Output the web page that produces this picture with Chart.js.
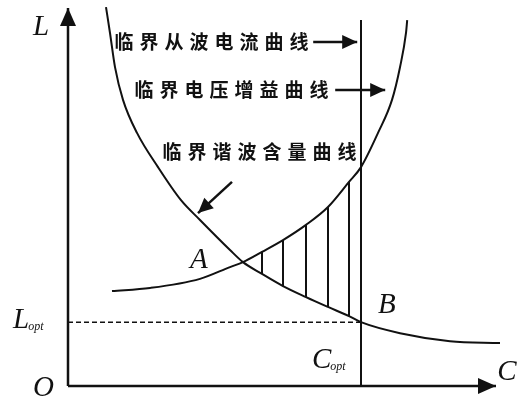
<!DOCTYPE html>
<html>
<head>
<meta charset="utf-8">
<script src="https://cdn.jsdelivr.net/npm/chart.js@4/dist/chart.umd.min.js"></script>
<style>
    html, body { margin: 0; padding: 0; background: #fff; }
    #wrap { width: 518px; height: 399px; position: relative; }
</style>
</head>
<body>
<div id="wrap"><canvas id="chart"></canvas></div>
<script>
// curve readings (C on x, L on y, arbitrary units, origin O at 0,0)
const harmonicC = [0.95, 1.05, 1.175, 1.375, 1.725, 2.25, 2.825, 3.30, 4.05, 4.375, 4.85, 5.375, 5.95, 6.50, 7.025, 7.325, 8.30, 9.55, 10.8];
const harmonicL = [9.97, 9.29, 8.39, 7.53, 6.66, 5.76, 4.89, 4.37, 3.58, 3.26, 2.95, 2.63, 2.34, 2.08, 1.84, 1.68, 1.39, 1.18, 1.13];

const gainC = [1.10, 2.05, 3.30, 4.05, 4.375, 4.85, 5.375, 5.95, 6.50, 7.025, 7.325, 7.75, 8.10, 8.30, 8.45, 8.48];
const gainL = [2.50, 2.58, 2.82, 3.13, 3.26, 3.53, 3.84, 4.24, 4.71, 5.37, 5.76, 6.66, 7.53, 8.39, 9.29, 9.63];

const Copt = 7.325;
const Lopt = 1.68;
const rippleTop = 9.63;

// hatch lines between the two curves
const hatchC = [4.85, 5.375, 5.95, 6.50, 7.025];
const hatchTop = [3.53, 3.84, 4.24, 4.71, 5.37];
const hatchBottom = [2.95, 2.63, 2.34, 2.08, 1.84];

const axisEndC = 10.7;
const axisEndL = 9.95;

const curveNames = ["临界从波电流曲线", "临界电压增益曲线", "临界谐波含量曲线"];

const toPoints = (xs, ys) => xs.map((x, i) => ({ x: x, y: ys[i] }));

const line = (data, extra) => Object.assign({
    data: data,
    showLine: true,
    borderColor: "#111",
    borderWidth: 2,
    pointRadius: 0,
    fill: false,
    clip: false
}, extra || {});

const datasets = [
    line([{ x: 0, y: 0 }, { x: 0, y: axisEndL }], { borderWidth: 2.5 }),
    line([{ x: 0, y: 0 }, { x: axisEndC, y: 0 }], { borderWidth: 2.5 }),
    line(toPoints(harmonicC, harmonicL), { cubicInterpolationMode: "monotone" }),
    line(toPoints(gainC, gainL), { cubicInterpolationMode: "monotone" }),
    line([{ x: Copt, y: 0 }, { x: Copt, y: rippleTop }]),
    line([{ x: 0, y: Lopt }, { x: Copt, y: Lopt }], { borderWidth: 1.5, borderDash: [5, 3] })
];
hatchC.forEach((c, i) => {
    datasets.push(line([{ x: c, y: hatchBottom[i] }, { x: c, y: hatchTop[i] }]));
});

function arrowHead(ctx, x1, y1, x2, y2, len, half) {
    const a = Math.atan2(y2 - y1, x2 - x1);
    ctx.beginPath();
    ctx.moveTo(x2, y2);
    ctx.lineTo(x2 - len * Math.cos(a) + half * Math.sin(a), y2 - len * Math.sin(a) - half * Math.cos(a));
    ctx.lineTo(x2 - len * Math.cos(a) - half * Math.sin(a), y2 - len * Math.sin(a) + half * Math.cos(a));
    ctx.closePath();
    ctx.fill();
}

const labelsPlugin = {
    id: "labels",
    afterDraw(chart) {
        const ctx = chart.ctx;
        const sx = chart.scales.x, sy = chart.scales.y;
        const px = (v) => sx.getPixelForValue(v);
        const py = (v) => sy.getPixelForValue(v);
        ctx.save();
        ctx.fillStyle = "#111";
        ctx.strokeStyle = "#111";

        // axis arrows
        arrowHead(ctx, px(0), py(0), px(0), py(axisEndL), 18, 8);
        arrowHead(ctx, px(0), py(0), px(axisEndC), py(0), 18, 8);

        // pointer arrows from the curve names
        const pointers = [
            [6.13, 9.05, 7.23, 9.05],
            [6.68, 7.79, 7.93, 7.79],
            [4.10, 5.37, 3.25, 4.55]
        ];
        ctx.lineWidth = 2.5;
        pointers.forEach((p) => {
            ctx.beginPath();
            ctx.moveTo(px(p[0]), py(p[1]));
            ctx.lineTo(px(p[2]), py(p[3]));
            ctx.stroke();
            arrowHead(ctx, px(p[0]), py(p[1]), px(p[2]), py(p[3]), 15, 7);
        });

        // chinese curve names, one glyph at a time
        const namePos = [[1.175, 9.05], [1.675, 7.79], [2.375, 6.16]];
        ctx.font = "bold 19px 'Noto Sans CJK SC'";
        ctx.textBaseline = "middle";
        ctx.textAlign = "center";
        curveNames.forEach((name, i) => {
            const x0 = px(namePos[i][0]), y0 = py(namePos[i][1]);
            Array.from(name).forEach((ch, k) => {
                ctx.fillText(ch, x0 + 9 + k * 25, y0);
            });
        });

        // italic letters
        ctx.textAlign = "left";
        ctx.textBaseline = "alphabetic";
        const letters = [
            ["L", "", -0.875, 9.24],
            ["A", "", 3.05, 3.11],
            ["B", "", 7.75, 1.92],
            ["C", "", 10.73, 0.16],
            ["O", "", -0.875, -0.26],
            ["L", "opt", -1.375, 1.53],
            ["C", "opt", 6.1, 0.47]
        ];
        letters.forEach((l) => {
            const x = px(l[2]), y = py(l[3]);
            ctx.font = "italic 29px 'Liberation Serif'";
            ctx.fillText(l[0], x, y);
            if (l[1]) {
                const w = ctx.measureText(l[0]).width;
                ctx.font = "italic 12px 'Liberation Serif'";
                ctx.fillText(l[1], x + w - 1, y + 2);
            }
        });
        ctx.restore();
    }
};

new Chart(document.getElementById("chart"), {
    type: "scatter",
    data: { datasets: datasets },
    options: {
        responsive: true,
        maintainAspectRatio: false,
        animation: false,
        layout: { padding: { left: 68, right: 0, top: 6, bottom: 13 } },
        plugins: { legend: { display: false }, tooltip: { enabled: false } },
        scales: {
            x: { type: "linear", min: 0, max: 11.25, display: false },
            y: { type: "linear", min: 0, max: 10, display: false }
        }
    },
    plugins: [labelsPlugin]
});
</script>
</body>
</html>
